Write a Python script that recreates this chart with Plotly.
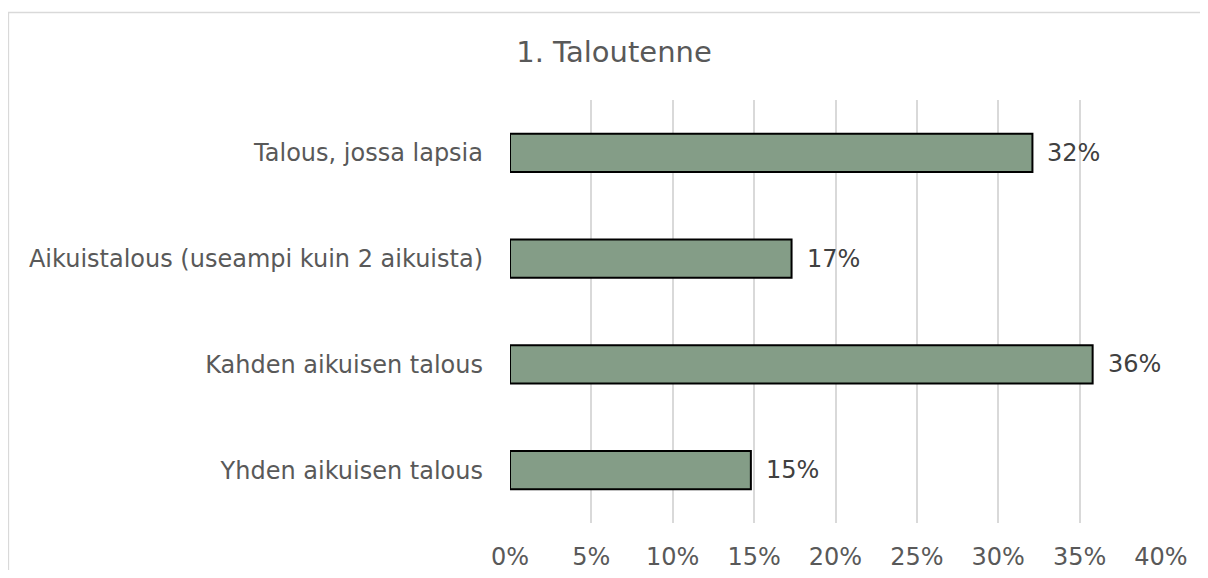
import plotly.graph_objects as go

categories = ["Talous, jossa lapsia",
              "Aikuistalous (useampi kuin 2 aikuista)",
              "Kahden aikuisen talous",
              "Yhden aikuisen talous"]
values = [32.1, 17.3, 35.8, 14.8]
tick_vals = [0, 5, 10, 15, 20, 25, 30, 35, 40]
tick_text = ["0%", "5%", "10%", "15%", "20%", "25%", "30%", "35%", "40%"]
title_text = "1. Taloutenne"

FONT = "DejaVu Sans, Verdana, sans-serif"
TXT = "#595959"

fig = go.Figure()
fig.add_trace(go.Bar(
    x=values, y=categories, orientation="h",
    marker=dict(color="#849D87", line=dict(color="#000000", width=2)),
    hoverinfo="skip",
))

for v, c in zip(values, categories):
    fig.add_annotation(x=v, y=c, xref="x", yref="y", text=f"{round(v):.0f}%",
                       showarrow=False, xanchor="left", yanchor="middle",
                       xshift=13, font=dict(family=FONT, size=24, color="#404040"))

# figure is placed at (8, 8) in the page
W, H = 1192, 562
L, R, T, B = 502, 39, 92, 47
pw, ph = W - L - R, H - T - B

def px2x(p):
    return (p - L) / pw

def px2y(p):
    return (H - B - p) / ph

# chart area frame (left and top visible)
fig.add_shape(type="rect", xref="paper", yref="paper",
              x0=px2x(0.5), x1=px2x(1240), y0=px2y(620), y1=px2y(4.5),
              line=dict(color="#D9D9D9", width=1.3), fillcolor="rgba(0,0,0,0)", layer="below")

fig.update_layout(
    width=W, height=H,
    margin=dict(l=L, r=R, t=T, b=B, autoexpand=False),
    paper_bgcolor="white", plot_bgcolor="white",
    bargap=0.64,
    showlegend=False,
    title=dict(text=title_text, x=606 / W, xanchor="center",
               y=1 - 44 / H, yanchor="middle",
               font=dict(family=FONT, size=29, color=TXT)),
    font=dict(family=FONT, size=24, color=TXT),
    xaxis=dict(range=[0, 40], tickvals=tick_vals, ticktext=tick_text,
               showgrid=True, gridcolor="#D9D9D9", gridwidth=2,
               zeroline=False, showline=False, ticks="", automargin=False,
               ticklabelstandoff=17,
               tickfont=dict(family=FONT, size=24, color=TXT), fixedrange=True),
    yaxis=dict(categoryorder="array", categoryarray=categories[::-1],
               range=[-0.5, 3.5], showgrid=False, zeroline=False, showline=False,
               ticks="", ticklabelstandoff=26, automargin=False,
               tickfont=dict(family=FONT, size=24, color=TXT), fixedrange=True),
)

fig.write_html("out.html")
